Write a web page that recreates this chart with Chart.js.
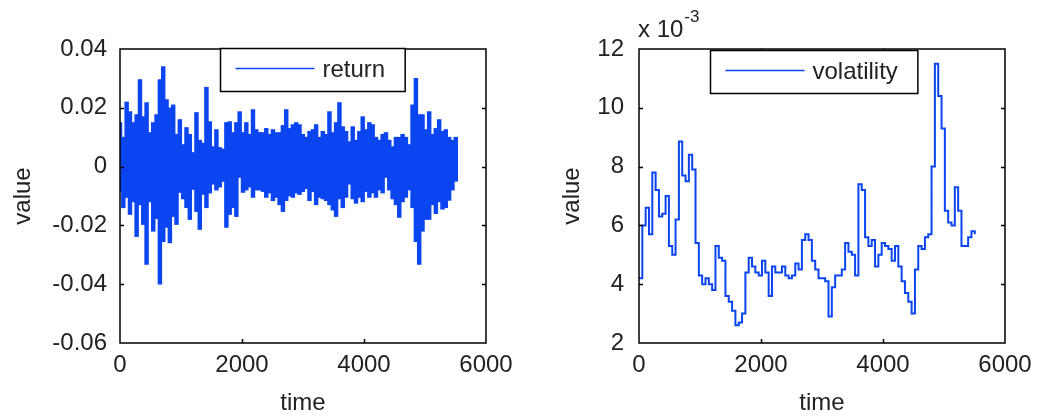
<!DOCTYPE html>
<html>
<head>
<meta charset="utf-8">
<script src="https://cdn.jsdelivr.net/npm/chart.js@4.4.0/dist/chart.umd.min.js"></script>
<style>
  html, body { margin: 0; padding: 0; background: #ffffff; }
  #wrap { position: relative; width: 1043px; height: 418px; overflow: hidden; background: #fff; }
  canvas { position: absolute; top: 0; }
  #cLeft { left: 0; }
  #cRight { left: 521px; }
</style>
</head>
<body>
<div id="wrap">
  <canvas id="cLeft" width="521" height="418"></canvas>
  <canvas id="cRight" width="522" height="418"></canvas>
</div>
<script>
// ---------------- DATA ----------------
const timeStep = 54.5; // time units between samples

// upper / lower extremes of the return series per sample
const returnUpper = [
  0.015, 0.010, 0.022, 0.0187, 0.015, 0.0177, 0.0296, 0.017, 0.0218, 0.0116,
  0.015, 0.0177, 0.0296, 0.034, 0.0228, 0.020, 0.021, 0.011, 0.016, 0.0075,
  0.0133, 0.011, 0.0048, 0.0184, 0.009, 0.008, 0.027, 0.0153, 0.0068, 0.0126,
  0.0065, 0.006, 0.015, 0.0153, 0.0116, 0.015, 0.0187, 0.0116, 0.015, 0.011,
  0.0194, 0.0126, 0.0116, 0.0116, 0.013, 0.011, 0.0126, 0.0116, 0.0116, 0.014,
  0.0194, 0.013, 0.0143, 0.015, 0.0143, 0.011, 0.010, 0.012, 0.0126, 0.0143,
  0.010, 0.012, 0.011, 0.0187, 0.0116, 0.015, 0.0218, 0.0136, 0.012, 0.0085,
  0.0136, 0.009, 0.012, 0.017, 0.0126, 0.015, 0.0143, 0.010, 0.009, 0.011,
  0.0116, 0.009, 0.0068, 0.010, 0.010, 0.011, 0.010, 0.0075, 0.021, 0.030,
  0.0177, 0.0177, 0.0126, 0.0187, 0.011, 0.013, 0.016, 0.012, 0.0126, 0.010,
  0.009, 0.010
];
const returnLower = [
  -0.0085, -0.014, -0.0105, -0.0163, -0.012, -0.0238, -0.013, -0.0197, -0.0333, -0.012,
  -0.022, -0.0177, -0.040, -0.0255, -0.0207, -0.026, -0.017, -0.0197, -0.0088, -0.011,
  -0.014, -0.018, -0.0078, -0.0153, -0.0214, -0.0095, -0.014, -0.009, -0.006, -0.008,
  -0.007, -0.0051, -0.0207, -0.0163, -0.014, -0.017, -0.0037, -0.0088, -0.008, -0.007,
  -0.0105, -0.008, -0.008, -0.0085, -0.0105, -0.009, -0.0116, -0.0105, -0.013, -0.0153,
  -0.0116, -0.010, -0.0105, -0.009, -0.0095, -0.0085, -0.0075, -0.0116, -0.0085, -0.013,
  -0.0105, -0.011, -0.0116, -0.013, -0.0148, -0.017, -0.011, -0.014, -0.0105, -0.006,
  -0.011, -0.0125, -0.0105, -0.012, -0.0085, -0.0105, -0.009, -0.0105, -0.008, -0.009,
  -0.0037, -0.008, -0.011, -0.013, -0.0173, -0.012, -0.0105, -0.008, -0.014, -0.0255,
  -0.0333, -0.022, -0.018, -0.018, -0.013, -0.016, -0.012, -0.0145, -0.014, -0.0115,
  -0.008, -0.005
];

// volatility, in units of 10^-3
const volatility = [
  4.2, 6.0, 6.6, 5.7, 7.8, 7.2, 6.3, 6.4, 7.0, 5.3,
  5.0, 6.2, 8.85, 7.7, 7.5, 8.4, 7.9, 5.4, 4.3, 4.0,
  4.2, 4.0, 3.8, 5.3, 4.9, 4.8, 3.6, 3.4, 3.1, 2.6,
  2.7, 3.0, 4.4, 4.9, 4.6, 4.4, 4.3, 4.8, 4.4, 3.6,
  4.6, 4.4, 4.4, 4.6, 4.3, 4.2, 4.3, 4.7, 4.5, 5.5,
  5.7, 5.5, 4.8, 4.5, 4.2, 4.2, 4.1, 2.9, 3.9, 4.3,
  4.3, 4.5, 5.4, 5.1, 5.0, 4.3, 7.4, 7.2, 5.6, 5.3,
  5.5, 4.6, 5.0, 5.4, 5.3, 5.2, 4.8, 5.3, 4.6, 4.1,
  3.7, 3.4, 3.0, 4.5, 5.3, 5.2, 5.6, 5.7, 8.0, 11.5,
  10.4, 9.3, 6.5, 6.1, 6.0, 7.3, 6.5, 5.3, 5.3, 5.6,
  5.8, 5.7
];

const time = returnUpper.map((_, i) => i * timeStep);

const xTicks = [0, 2000, 4000, 6000];
const yTicksReturn = [-0.06, -0.04, -0.02, 0, 0.02, 0.04];
const yTicksVol = [2, 4, 6, 8, 10, 12];
const volExponentLabel = ['x 10', '-3'];

// ---------------- STYLE ----------------
const BLUE = '#0a45f0';
const TEXT = '#222222';
const FAMILY = "'Liberation Sans', Arial, Helvetica, sans-serif";
const FONT = { family: FAMILY, size: 24 };

// Box + inward ticks (MATLAB style axes)
const matlabAxes = {
  id: 'matlabAxes',
  afterDatasetsDraw(chart) {
    const ctx = chart.ctx, ca = chart.chartArea;
    const xs = chart.scales.x, ys = chart.scales.y;
    const L = 4;
    ctx.save();
    ctx.strokeStyle = '#000';
    ctx.lineWidth = 1.5;
    ctx.beginPath();
    xs.ticks.forEach(t => {
      const p = Math.round(xs.getPixelForValue(t.value)) + 0.5;
      if (p <= ca.left + 1 || p >= ca.right - 1) return;
      ctx.moveTo(p, ca.bottom); ctx.lineTo(p, ca.bottom - L);
      ctx.moveTo(p, ca.top); ctx.lineTo(p, ca.top + L);
    });
    ys.ticks.forEach(t => {
      const p = Math.round(ys.getPixelForValue(t.value)) + 0.5;
      if (p <= ca.top + 1 || p >= ca.bottom - 1) return;
      ctx.moveTo(ca.left, p); ctx.lineTo(ca.left + L, p);
      ctx.moveTo(ca.right, p); ctx.lineTo(ca.right - L, p);
    });
    ctx.stroke();
    ctx.strokeRect(ca.left, ca.top, ca.right - ca.left, ca.bottom - ca.top);
    ctx.restore();
  }
};

// Boxed legend drawn inside the axes (top centre)
const matlabLegend = {
  id: 'matlabLegend',
  afterDraw(chart, args, opts) {
    const ds = chart.data.datasets[0];
    const ctx = chart.ctx, ca = chart.chartArea;
    ctx.save();
    ctx.font = '24px ' + FAMILY;
    const tw = ctx.measureText(ds.label).width;
    const w = 102 + tw + 20, h = 43;
    const x0 = Math.round(ca.left + opts.offsetX) + 0.5;
    const y0 = Math.round(ca.top + opts.offsetY) + 0.5;
    ctx.fillStyle = '#fff';
    ctx.fillRect(x0, y0, w, h);
    ctx.strokeStyle = '#000';
    ctx.lineWidth = 1.5;
    ctx.strokeRect(x0, y0, w, h);
    ctx.strokeStyle = BLUE;
    ctx.lineWidth = 1.5;
    ctx.beginPath();
    ctx.moveTo(x0 + 15, y0 + 20);
    ctx.lineTo(x0 + 94, y0 + 20);
    ctx.stroke();
    ctx.fillStyle = TEXT;
    ctx.textBaseline = 'middle';
    ctx.textAlign = 'left';
    ctx.fillText(ds.label, x0 + 102, y0 + 22);
    ctx.restore();
  }
};

// "x 10^-3" multiplier label
const exponentLabel = {
  id: 'exponentLabel',
  afterDraw(chart, args, opts) {
    if (!opts || !opts.text) return;
    const ctx = chart.ctx, ca = chart.chartArea;
    ctx.save();
    ctx.fillStyle = TEXT;
    ctx.textBaseline = 'alphabetic';
    ctx.textAlign = 'left';
    ctx.font = '24px ' + FAMILY;
    const x = ca.left - 1;
    ctx.fillText(opts.text[0], x, ca.top - 12);
    const w = ctx.measureText(opts.text[0]).width;
    ctx.font = '17px ' + FAMILY;
    ctx.fillText(opts.text[1], x + w + 1, ca.top - 27);
    ctx.restore();
  }
};

function makeScales(yMin, yMax, yTicks, yWidth, yTickPad, yTitlePad) {
  return {
    x: {
      type: 'linear', min: 0, max: 6000, offset: false,
      afterBuildTicks: s => { s.ticks = xTicks.map(v => ({ value: v })); },
      afterFit: s => { s.height = 75; },
      grid: { display: false, drawTicks: false, offset: false },
      border: { display: false },
      ticks: { font: FONT, color: TEXT, padding: 8, maxRotation: 0, autoSkip: false, callback: v => String(v) },
      title: { display: true, text: 'time', font: FONT, color: TEXT, padding: { top: 0, bottom: 0 } }
    },
    y: {
      type: 'linear', min: yMin, max: yMax,
      afterBuildTicks: s => { s.ticks = yTicks.map(v => ({ value: v })); },
      afterFit: s => { s.width = yWidth; },
      grid: { display: false, drawTicks: false },
      border: { display: false },
      ticks: { font: FONT, color: TEXT, padding: yTickPad, autoSkip: false, callback: v => String(v) },
      title: { display: true, text: 'value', font: FONT, color: TEXT, padding: { top: yTitlePad, bottom: 0 } }
    }
  };
}

const common = {
  responsive: false,
  animation: false,
  events: [],
  devicePixelRatio: 1
};

new Chart(document.getElementById('cLeft'), {
  type: 'bar',
  data: {
    datasets: [
      {
        label: 'return',
        // range swept by the return series within each sample span
        data: time.map((t, i) => ({ x: t, y: [returnLower[i], returnUpper[i]] })),
        backgroundColor: BLUE, borderColor: BLUE, borderWidth: 0,
        barThickness: 3.8, grouped: false, borderSkipped: false
      }
    ]
  },
  options: Object.assign({}, common, {
    layout: { padding: { left: 0, right: 35, top: 49, bottom: 0 } },
    plugins: {
      legend: { display: false },
      tooltip: { enabled: false },
      matlabLegend: { offsetX: 100, offsetY: -1 }
    },
    scales: makeScales(-0.06, 0.04, yTicksReturn, 120, 13, 9)
  }),
  plugins: [matlabAxes, matlabLegend]
});

new Chart(document.getElementById('cRight'), {
  type: 'line',
  data: {
    datasets: [
      {
        label: 'volatility',
        data: time.map((t, i) => ({ x: t, y: volatility[i] })),
        borderColor: BLUE, borderWidth: 2,
        pointRadius: 0, stepped: true, fill: false
      }
    ]
  },
  options: Object.assign({}, common, {
    layout: { padding: { left: 0, right: 38, top: 49, bottom: 0 } },
    plugins: {
      legend: { display: false },
      tooltip: { enabled: false },
      matlabLegend: { offsetX: 71, offsetY: 1 },
      exponentLabel: { text: volExponentLabel }
    },
    scales: makeScales(2, 12, yTicksVol, 118, 15, 37)
  }),
  plugins: [matlabAxes, matlabLegend, exponentLabel]
});
</script>
</body>
</html>
